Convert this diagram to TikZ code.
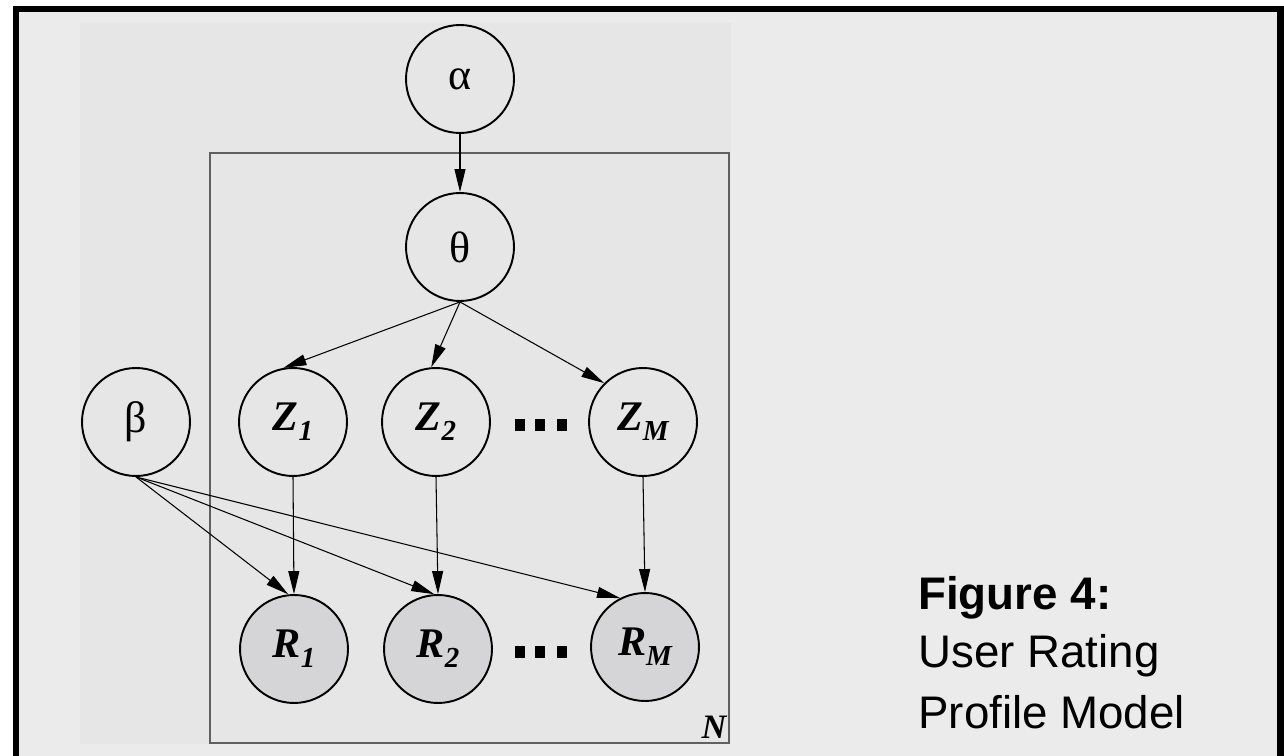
\documentclass[tikz,border=0pt]{standalone}
\usepackage{fontspec}
\setmainfont{Liberation Serif}
\newfontfamily\capfont{Liberation Sans}
\usetikzlibrary{arrows.meta}
\definecolor{outerbg}{HTML}{EBEBEB}
\definecolor{innerbg}{HTML}{E6E6E6}
\definecolor{obsfill}{HTML}{D5D5D8}
\definecolor{platecol}{HTML}{606060}
\tikzset{
  var/.style={draw, circle, line width=1.1pt, minimum size=2.16cm, inner sep=0pt, font=\fontsize{25}{26}\selectfont},
  obs/.style={var, fill=obsfill},
  edge/.style={-{Triangle[length=0.46cm, width=0.22cm]}, line width=.6pt},
  captext/.style={anchor=base west, inner sep=0pt, font=\capfont\fontsize{26}{30}\selectfont}
}
\newcommand{\bi}[2]{{\bfseries\itshape\fontsize{24}{26}\selectfont #1\raisebox{-5.5pt}{\fontsize{16.5}{17}\selectfont #2}}}

\begin{document}
\begin{tikzpicture}[x=.02cm, y=-.02cm]
            \useasboundingbox(0, 0)rectangle(1284, 756);
            \fill[white](0, 0)rectangle(1284, 756);
            \fill[black](13, 6)rectangle(1284, 756);
            \fill[outerbg](19, 12)rectangle(1277, 756);
            \fill[innerbg](80, 23)rectangle(731, 744);
            \draw[platecol, line width=1pt](210, 153)rectangle(729, 743);
            \node[font=\bfseries\itshape\fontsize{19.5}{20}\selectfont](nlabel)at(714, 727){N};
            \node[var](alpha)at(460, 79){α};
            \node[var](theta)at(460, 247){θ};
            \node[var](beta)at(136, 422){β};
            \node[var](z1)at(293, 422){\bi{Z}{1}};
            \node[var](z2)at(436, 422){\bi{Z}{2}};
            \node[var](zm)at(643, 422){\bi{Z}{M}};
            \node[obs](r1)at(294, 649){\bi{R}{1}};
            \node[obs](r2)at(438, 649){\bi{R}{2}};
            \node[obs](rm)at(645, 647){\bi{R}{M}};
            \foreach \y in {425, 652}
              \foreach \x in {520, 540, 562}
                \fill(\x-5, \y-6)rectangle(\x+5, \y+6);
            \draw[edge](alpha.south)--(theta.north);
            \draw[edge](theta.south)--(z1.100);
            \draw[edge](theta.south)--(z2.95);
            \draw[edge](theta.south)--(zm.135);
            \draw[edge](z1.south)--(r1.north);
            \draw[edge](z2.south)--(r2.north);
            \draw[edge](zm.south)--(rm.north);
            \draw[edge](beta.south)--(r1.96);
            \draw[edge](beta.south)--(r2.94);
            \draw[edge](beta.south)--(rm.117);
            \node[captext](fig)at(918, 609){\bfseries Figure 4:};
            \node[captext](cap1)at(918, 667){User Rating};
            \node[captext](cap2)at(918, 728){Profile Model};
        \end{tikzpicture}
\end{document}
